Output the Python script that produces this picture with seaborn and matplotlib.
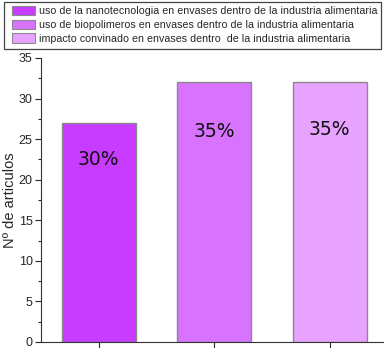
import matplotlib
matplotlib.use('Agg')
import matplotlib.pyplot as plt
import seaborn as sns
import pandas as pd
from matplotlib.ticker import MultipleLocator

# data
categorias = ['uso de la nanotecnologia en envases dentro de la industria alimentaria',
              'uso de biopolimeros en envases dentro de la industria alimentaria',
              'impacto convinado en envases dentro  de la industria alimentaria']
articulos = [27, 32, 32]
porcentajes = ['30%', '35%', '35%']
colores = ['#C83CFF', '#D773FF', '#E8A2FF']

df = pd.DataFrame({'cat': categorias, 'n': articulos})

sns.set_style('ticks')
plt.rcParams['font.family'] = ['Liberation Sans', 'DejaVu Sans']

W, H = 384, 348
fig = plt.figure(figsize=(W / 100, H / 100), dpi=100)
ax = fig.add_axes([41 / W, 6 / H, 346.5 / W, 284 / H])

sns.barplot(data=df, x='cat', y='n', hue='cat', palette=colores, dodge=False,
            saturation=1, width=0.64, edgecolor='#8a8a8a', linewidth=1.0,
            legend=False, ax=ax)

# percentage labels inside the bars
offsets = [4.5, 6.0, 5.8]
for i, (v, p) in enumerate(zip(articulos, porcentajes)):
    ax.text(i, v - offsets[i], p, ha='center', va='center', fontsize=13.5,
            family='DejaVu Sans', color='#111111')

ax.set_xlim(-0.5, 2.5)
ax.set_ylim(0, 35)
ax.yaxis.set_major_locator(MultipleLocator(5))
ax.yaxis.set_minor_locator(MultipleLocator(2.5))
ax.set_xticks([0, 1, 2])
ax.set_xticklabels([])
ax.set_xlabel('')
ax.set_ylabel('Nº de articulos', fontsize=10.5, labelpad=1)
ax.tick_params(axis='y', labelsize=9, length=4, width=0.8, direction='out', pad=2)
ax.tick_params(axis='y', which='minor', length=2.5, width=0.8)
ax.tick_params(axis='x', length=4, width=0.8, direction='out')
for s in ['top', 'right']:
    ax.spines[s].set_visible(False)
for s in ['left', 'bottom']:
    ax.spines[s].set_color('#333333')
    ax.spines[s].set_linewidth(0.8)

# legend box drawn on its own, legend entries without frame
fig.patches.append(plt.Rectangle((4 / W, 1 - 49 / H), 377 / W, 47 / H,
                                 transform=fig.transFigure, fill=False,
                                 edgecolor='#444444', linewidth=0.9))
handles = [plt.Rectangle((0, 0), 1, 1, facecolor=c, edgecolor='#8a8a8a', linewidth=0.8)
           for c in colores]
fig.legend(handles, categorias, loc='upper left',
           bbox_to_anchor=(12 / W, 1 - 6 / H), fontsize=7.7,
           frameon=False, borderaxespad=0, borderpad=0, labelspacing=0.32,
           handlelength=2.15, handleheight=0.95, handletextpad=0.42)

fig.savefig('out.png', dpi=100)
